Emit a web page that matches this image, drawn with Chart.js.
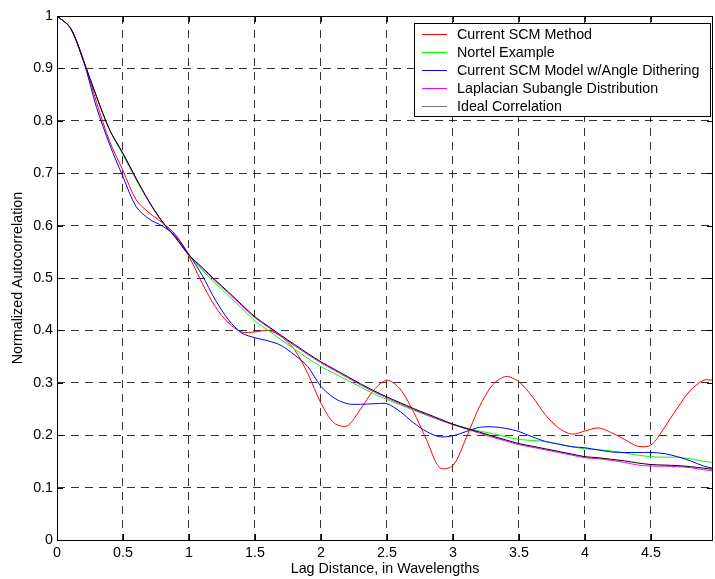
<!DOCTYPE html>
<html>
<head>
<meta charset="utf-8">
<script src="https://cdn.jsdelivr.net/npm/chart.js@4.4.0/dist/chart.umd.min.js"></script>
<style>
    body { margin: 0; background: #fff; }
</style>
</head>
<body>
<canvas id="chart" width="715" height="579"></canvas>
<script>
// lag distance in wavelengths (x values shared by every curve)
const lagDistance = [0, 0.1, 0.2, 0.3, 0.4, 0.5, 0.6, 0.7, 0.8, 0.9, 1.0,
    1.1, 1.2, 1.3, 1.4, 1.5, 1.6, 1.7, 1.8, 1.9, 2.0,
    2.1, 2.2, 2.3, 2.4, 2.5, 2.6, 2.7, 2.8, 2.9, 3.0,
    3.1, 3.2, 3.3, 3.4, 3.5, 3.6, 3.7, 3.8, 3.9, 4.0,
    4.1, 4.2, 4.3, 4.4, 4.5, 4.6, 4.7, 4.8, 4.9, 4.97]

const currentScm = [1.0, 0.978, 0.917, 0.835, 0.76, 0.705, 0.649, 0.624, 0.605, 0.582, 0.541,
    0.49, 0.445, 0.414, 0.397, 0.397, 0.4, 0.388, 0.363, 0.318, 0.261,
    0.223, 0.218, 0.25, 0.286, 0.305, 0.288, 0.245, 0.191, 0.138, 0.142,
    0.195, 0.254, 0.296, 0.312, 0.302, 0.274, 0.239, 0.214, 0.202, 0.208,
    0.214, 0.205, 0.192, 0.179, 0.181, 0.214, 0.252, 0.286, 0.305, 0.305]

const nortel = [1.0, 0.978, 0.915, 0.846, 0.782, 0.735, 0.687, 0.644, 0.606, 0.576, 0.543,
    0.515, 0.49, 0.466, 0.442, 0.418, 0.4, 0.382, 0.364, 0.347, 0.331,
    0.318, 0.305, 0.292, 0.279, 0.268, 0.258, 0.248, 0.238, 0.229, 0.221,
    0.214, 0.208, 0.203, 0.197, 0.192, 0.19, 0.188, 0.183, 0.178, 0.174,
    0.172, 0.17, 0.166, 0.162, 0.159, 0.158, 0.158, 0.155, 0.15, 0.148]

const dithering = [1.0, 0.978, 0.915, 0.825, 0.754, 0.693, 0.636, 0.612, 0.599, 0.58, 0.545,
    0.505, 0.458, 0.42, 0.395, 0.386, 0.38, 0.371, 0.353, 0.331, 0.293,
    0.271, 0.26, 0.259, 0.26, 0.26, 0.245, 0.224, 0.207, 0.197, 0.199,
    0.207, 0.215, 0.216, 0.213, 0.207, 0.197, 0.188, 0.183, 0.178, 0.176,
    0.172, 0.168, 0.167, 0.167, 0.167, 0.165, 0.159, 0.151, 0.141, 0.137]

const laplacian = [1.0, 0.978, 0.915, 0.846, 0.782, 0.737, 0.689, 0.644, 0.606, 0.576, 0.543,
    0.518, 0.494, 0.471, 0.447, 0.424, 0.406, 0.388, 0.371, 0.354, 0.338,
    0.324, 0.31, 0.296, 0.283, 0.271, 0.26, 0.249, 0.239, 0.229, 0.22,
    0.212, 0.204, 0.196, 0.189, 0.182, 0.177, 0.172, 0.167, 0.162, 0.157,
    0.155, 0.152, 0.148, 0.143, 0.141, 0.141, 0.14, 0.138, 0.134, 0.132]

const ideal = [1.0, 0.978, 0.915, 0.846, 0.782, 0.738, 0.69, 0.645, 0.607, 0.577, 0.544,
    0.52, 0.496, 0.473, 0.449, 0.426, 0.408, 0.39, 0.373, 0.356, 0.34,
    0.326, 0.312, 0.298, 0.285, 0.273, 0.262, 0.251, 0.241, 0.231, 0.221,
    0.213, 0.206, 0.198, 0.191, 0.184, 0.179, 0.174, 0.169, 0.164, 0.159,
    0.157, 0.154, 0.151, 0.147, 0.144, 0.143, 0.142, 0.14, 0.137, 0.135]

const xTicks = [0, 0.5, 1, 1.5, 2, 2.5, 3, 3.5, 4, 4.5]
const yTicks = [0, 0.1, 0.2, 0.3, 0.4, 0.5, 0.6, 0.7, 0.8, 0.9, 1]

const font = { family: '"Liberation Sans", Arial, sans-serif', size: 14.3 }

function toPoints(values) {
    return values.map((v, i) => ({ x: lagDistance[i], y: v }))
}

function makeSet(label, values, color, order) {
    return {
        label: label,
        data: toPoints(values),
        borderColor: color,
        backgroundColor: color,
        borderWidth: 1,
        pointRadius: 0,
        tension: 0.3,
        fill: false,
        order: order
    }
}

// matlab style box with inward ticks on all four sides
const axesBox = {
    id: 'axesBox',
    afterDatasetsDraw(chart) {
        const { ctx, chartArea: a, scales } = chart
        const tl = 6
        ctx.save()
        ctx.strokeStyle = '#000'
        ctx.lineWidth = 1
        ctx.strokeRect(a.left + 0.5, a.top + 0.5, a.right - a.left - 1, a.bottom - a.top)
        ctx.beginPath()
        for (const v of xTicks) {
            const px = Math.round(scales.x.getPixelForValue(v)) + 0.5
            ctx.moveTo(px, a.bottom); ctx.lineTo(px, a.bottom - tl)
            ctx.moveTo(px, a.top); ctx.lineTo(px, a.top + tl)
        }
        for (const v of yTicks) {
            const py = Math.round(scales.y.getPixelForValue(v)) + 0.5
            ctx.moveTo(a.left, py); ctx.lineTo(a.left + tl, py)
            ctx.moveTo(a.right, py); ctx.lineTo(a.right - tl, py)
        }
        ctx.stroke()
        ctx.restore()
    }
}

const legendBox = {
    id: 'legendBox',
    afterDraw(chart) {
        const ctx = chart.ctx
        const sets = chart.data.datasets
        ctx.save()
        ctx.fillStyle = '#fff'
        ctx.fillRect(414, 23, 297, 94)
        ctx.strokeStyle = '#000'
        ctx.lineWidth = 1
        ctx.strokeRect(414.5, 23.5, 296, 93)
        ctx.font = font.size + 'px ' + font.family
        ctx.textBaseline = 'middle'
        ctx.fillStyle = '#000'
        sets.forEach((ds, i) => {
            const y = Math.round(33.5 + i * 18.2) + 0.5
            ctx.strokeStyle = ds.borderColor === '#000000' ? '#777' : ds.borderColor
            ctx.beginPath()
            ctx.moveTo(422, y)
            ctx.lineTo(447, y)
            ctx.stroke()
            ctx.fillText(ds.label, 457, y + 0.5)
        })
        ctx.restore()
    }
}

const chart = new Chart(document.getElementById('chart'), {
    type: 'line',
    data: {
        datasets: [
            makeSet('Current SCM Method', currentScm, '#ff0000', 5),
            makeSet('Nortel Example', nortel, '#00ff00', 4),
            makeSet('Current SCM Model w/Angle Dithering', dithering, '#0000ff', 3),
            makeSet('Laplacian Subangle Distribution', laplacian, '#ff00ff', 2),
            makeSet('Ideal Correlation', ideal, '#000000', 1)
        ]
    },
    options: {
        responsive: false,
        animation: false,
        devicePixelRatio: 1,
        layout: { padding: { top: 16, right: 2, left: 0, bottom: 0 } },
        plugins: {
            legend: { display: false },
            tooltip: { enabled: false }
        },
        scales: {
            x: {
                type: 'linear',
                min: 0,
                max: 4.97,
                afterBuildTicks: s => { s.ticks = xTicks.map(v => ({ value: v })) },
                afterFit: s => { s.height = 39 },
                ticks: {
                    color: '#000',
                    font: font,
                    padding: 4,
                    maxRotation: 0,
                    autoSkip: false,
                    callback: v => String(v)
                },
                grid: { color: 'rgba(0,0,0,0.8)', lineWidth: 1, drawTicks: false },
                border: { display: false, dash: [8, 6] },
                title: {
                    display: true,
                    text: 'Lag Distance, in Wavelengths',
                    color: '#000',
                    font: font,
                    padding: { top: 0, bottom: 1 }
                }
            },
            y: {
                min: 0,
                max: 1,
                afterBuildTicks: s => { s.ticks = yTicks.map(v => ({ value: v })) },
                afterFit: s => { s.width = 57 },
                ticks: {
                    color: '#000',
                    font: font,
                    padding: 4,
                    autoSkip: false,
                    callback: v => String(Math.round(v * 10) / 10)
                },
                grid: { color: 'rgba(0,0,0,0.8)', lineWidth: 1, drawTicks: false },
                border: { display: false, dash: [8, 6] },
                title: {
                    display: true,
                    text: 'Normalized Autocorrelation',
                    color: '#000',
                    font: font,
                    padding: { top: 9, bottom: 0 }
                }
            }
        }
    },
    plugins: [axesBox, legendBox]
})
</script>
</body>
</html>
